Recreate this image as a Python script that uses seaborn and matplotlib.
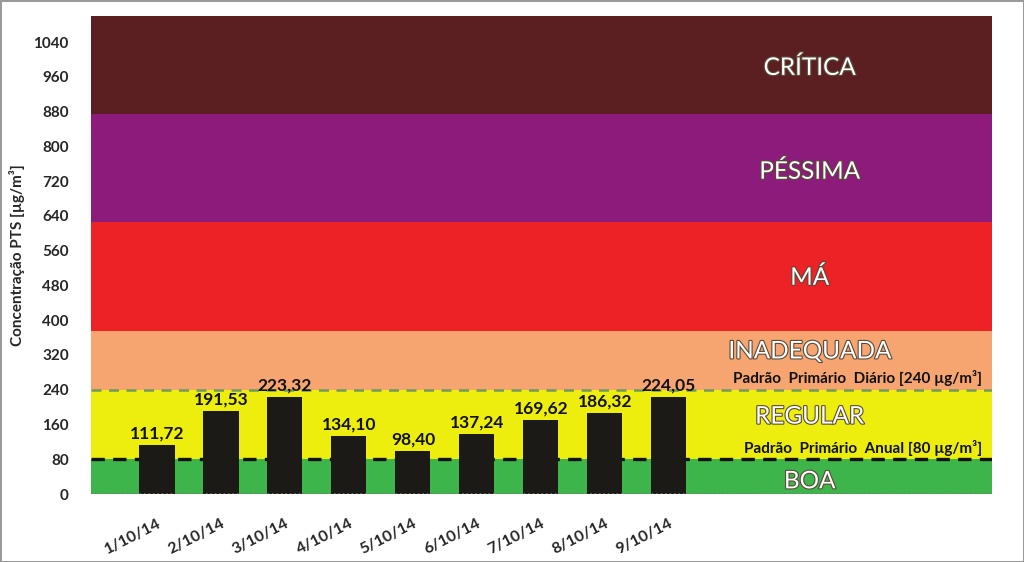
import matplotlib
matplotlib.use("Agg")
import matplotlib.pyplot as plt
import matplotlib.patheffects as pe
import seaborn as sns
import pandas as pd

dates = ["1/10/14", "2/10/14", "3/10/14", "4/10/14", "5/10/14",
         "6/10/14", "7/10/14", "8/10/14", "9/10/14"]
values = [111.72, 191.53, 223.32, 134.10, 98.40, 137.24, 169.62, 186.32, 224.05]

band_names = ["BOA", "REGULAR", "INADEQUADA", "MÁ", "PÉSSIMA", "CRÍTICA"]
band_lo = [0, 80, 240, 375, 625, 875]
band_hi = [80, 240, 375, 625, 875, 1100]
band_colors = ["#3db54a", "#eeee0e", "#f6a570", "#ec2227", "#8d1b7b", "#5b1f22"]
band_label_y = [28, 177, 327, 497, 741, 980]

yticks = list(range(0, 1041, 80))
padrao_diario = 240
padrao_anual = 80

sns.set_style("white")
plt.rcParams['font.family'] = ['Lato', 'DejaVu Sans']

fig = plt.figure(figsize=(10.24, 5.62), dpi=100)
fig.patch.set_edgecolor("#9a9a9a")
fig.patch.set_linewidth(2)
ax = fig.add_axes([91/1024, 68/562, 901/1024, 478/562])

df = pd.DataFrame({"data": dates, "valor": values})
sns.barplot(data=df, x="data", y="valor", color="#1c1a17", width=0.55,
            saturation=1, ax=ax, zorder=3, edgecolor="#1c1a17", linewidth=0)

for lo, hi, c in zip(band_lo, band_hi, band_colors):
    ax.axhspan(lo, hi, color=c, zorder=0, lw=0)

ax.set_xlim(-1.03, 13.05)
ax.set_ylim(0, 1100)

ax.axhline(padrao_diario, color="#6f9a5c", ls=(0, (4, 3)), lw=1.8, zorder=2)
ax.axhline(padrao_anual, color="#111111", ls=(0, (4, 2.5)), lw=2.4, zorder=2)
ax.axhline(0, color="#777777", ls=":", lw=1.2, zorder=4)

for i, v in enumerate(values):
    ax.text(i, v + 8, f"{v:.2f}".replace(".", ","), ha="center", va="bottom",
            fontsize=12.5, fontweight="bold", color="#111111", zorder=5)

xc = 10.2
for name, yy in zip(band_names, band_label_y):
    t = ax.text(xc, yy, name, ha="center", va="center", fontsize=17.5,
                color="white", zorder=5)
    t.set_path_effects([pe.withStroke(linewidth=1.6, foreground="#5a4a3a")])

ax.text(12.9, padrao_diario + 8, "Padrão  Primário  Diário [240 µg/m³]",
        ha="right", va="bottom", fontsize=11, fontweight="bold", color="#111111", zorder=5)
ax.text(12.9, padrao_anual + 8, "Padrão  Primário  Anual [80 µg/m³]",
        ha="right", va="bottom", fontsize=11, fontweight="bold", color="#111111", zorder=5)

ax.set_yticks(yticks)
ax.set_yticklabels([str(t) for t in yticks], fontsize=11, fontweight="bold")
ax.set_xticks(range(len(dates)))
ax.set_xticklabels(dates, rotation=27, ha="right", va="top", rotation_mode="anchor",
                   fontsize=11.5, fontweight="bold")
ax.tick_params(axis="x", pad=16, length=0)
ax.tick_params(axis="y", length=0, pad=16)
ax.set_xlabel("")
ax.set_ylabel("Concentração PTS [µg/m³]", fontsize=11, fontweight="bold", labelpad=6)
for s in ax.spines.values():
    s.set_visible(False)

fig.savefig("out.png", dpi=100, edgecolor=fig.get_edgecolor())
